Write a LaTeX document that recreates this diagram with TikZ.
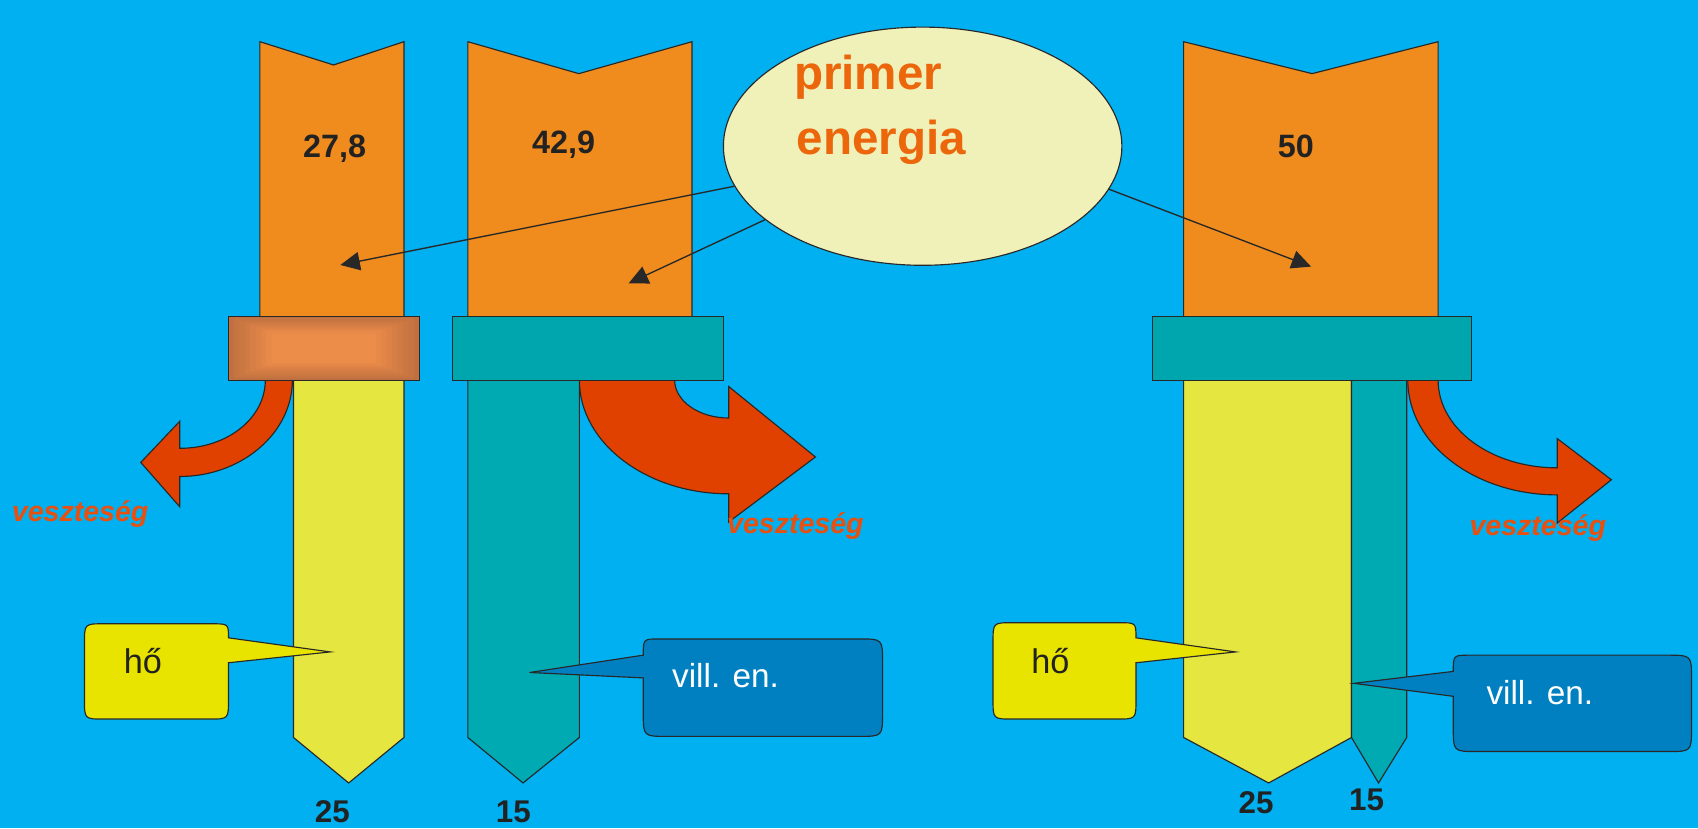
\documentclass[tikz,border=0pt]{standalone}
\usepackage{fontspec}
\setmainfont{Liberation Sans}
\usetikzlibrary{arrows.meta,shapes.geometric}
\definecolor{bg}{RGB}{0,176,240}
\definecolor{colc}{RGB}{240,140,30}
\definecolor{ellc}{RGB}{240,240,185}
\definecolor{primc}{RGB}{236,102,12}
\definecolor{lossc}{RGB}{224,64,0}
\definecolor{losst}{RGB}{232,80,16}
\definecolor{tealbox}{RGB}{0,166,174}
\definecolor{tealbar}{RGB}{0,170,178}
\definecolor{yel}{RGB}{230,230,64}
\definecolor{hoc}{RGB}{232,228,0}
\definecolor{villc}{RGB}{0,128,192}
\definecolor{bout}{RGB}{192,112,64}
\definecolor{bin}{RGB}{238,142,74}
\definecolor{txt}{RGB}{34,34,34}
\definecolor{outl}{RGB}{40,40,40}
\begin{document}
\begin{tikzpicture}[x=0.02cm,y=-0.02cm,line join=miter,
  shp/.style={draw=outl,line width=0.6pt},
  loss/.style={shp,fill=lossc},
  colshape/.style={shp,fill=colc},
  num/.style={font=\bfseries\fontsize{17}{17}\selectfont,text=txt,inner sep=0,anchor=base},
  botnum/.style={font=\bfseries\fontsize{16.5}{16.5}\selectfont,text=txt,inner sep=0,anchor=base},
  prim/.style={font=\bfseries\fontsize{25}{25}\selectfont,text=primc,inner sep=0,anchor=base west},
  losstxt/.style={font=\bfseries\itshape\fontsize{15}{15}\selectfont,text=losst,inner sep=0,anchor=base},
  hotxt/.style={font=\fontsize{18}{18}\selectfont,text=txt,inner sep=0,anchor=base},
  villtxt/.style={font=\fontsize{17.5}{17.5}\selectfont,text=white,inner sep=0,anchor=base},
  conn/.style={draw=outl,line width=0.7pt,-{Triangle[length=0.36cm,width=0.34cm]}}]
\fill[bg] (0,0) rectangle (1568,765);
\useasboundingbox (0,0) rectangle (1568,765);

% loss arrows
\path[loss] (245,351) .. controls (245,386) and (210,414) .. (166,414) -- (166,389) -- (130,427) -- (166,468) -- (166,440) .. controls (223,440) and (270,400) .. (270,351) -- cycle;
\path[loss] (535,351) .. controls (535,409) and (597,456) .. (673,456) -- (673,482) -- (753,422) -- (673,357) -- (673,386) .. controls (645,386) and (623,370) .. (623,351) -- cycle;
\path[loss] (1300,351) .. controls (1300,410) and (1362,457) .. (1438,457) -- (1438,483) -- (1488,443) -- (1438,405) -- (1438,432) .. controls (1377,432) and (1328,396) .. (1328,351) -- cycle;

% primary energy columns
\path[colshape] (240,300) -- (240,38.5) -- (308,60) -- (373,38.5) -- (373,300) -- cycle;
\path[colshape] (432,300) -- (432,38.5) -- (534.5,68) -- (639,38.5) -- (639,300) -- cycle;
\path[colshape] (1093,300) -- (1093,38.5) -- (1211.6,68) -- (1328,38.5) -- (1328,300) -- cycle;

% output bars
\path[shp,fill=yel] (271,345) -- (271,681) -- (322,723) -- (373,681) -- (373,345) -- cycle;
\path[shp,fill=tealbar] (432,345) -- (432,681) -- (483,723) -- (535,681) -- (535,345) -- cycle;
\path[shp,fill=yel] (1093,345) -- (1093,681) -- (1171.5,723) -- (1248,681) -- (1248,345) -- cycle;
\path[shp,fill=tealbar] (1248,345) -- (1248,681) -- (1273,723) -- (1299,681) -- (1299,345) -- cycle;

% converter boxes
\fill[bout] (211,292) rectangle (387,351);
\foreach \i in {1,...,8}{
  \pgfmathtruncatemacro\p{\i*12}
  \fill[color=bin!\p!bout] (211+\i*5,292+\i*2) rectangle (387-\i*5,351-\i*2);
}
\draw[shp] (211,292) rectangle (387,351);
\path[shp,fill=tealbox] (418,292) rectangle (668,351);
\path[shp,fill=tealbox] (1064,292) rectangle (1359,351);

% column values
\node[num] (v1) at (309,145) {27,8};
\node[num] (v2) at (520.5,142) {42,9};
\node[num] (v3) at (1196.6,145) {50};

% primary energy ellipse
\node[ellipse,fill=ellc,draw=outl,line width=0.6pt,minimum width=7.36cm,minimum height=4.4cm,inner sep=0] (pe) at (852,135) {};
\node[prim] (pt1) at (733,83) {primer};
\node[prim] (pt2) at (735.5,143) {energia};
\coordinate (a1) at (314.3,244.7);
\coordinate (a2) at (580.5,261.6);
\coordinate (a3) at (1210.7,246.2);
\draw[conn] (pe.192.5) -- (a1);
\draw[conn] (pe.205.9) -- (a2);
\draw[conn] (pe.-13.5) -- (a3);

% loss labels
\node[losstxt] (l1) at (74,482) {veszteség};
\node[losstxt] (l2) at (734.5,493) {veszteség};
\node[losstxt] (l3) at (1420,494.6) {veszteség};

% callouts
\path[shp,fill=hoc] (96,576) -- (195,576) .. controls (211,576) .. (211,589) -- (305,602) -- (211,612) -- (211,646) .. controls (211,664) .. (193,664) -- (96,664) .. controls (78,664) .. (78,646) -- (78,594) .. controls (78,576) .. (96,576) -- cycle;
\path[shp,fill=villc] (609,590) -- (793,590) .. controls (815,590) .. (815,612) -- (815,658) .. controls (815,680) .. (793,680) -- (616,680) .. controls (594,680) .. (594,658) -- (594,626) -- (489,621) -- (594,605) .. controls (594,590) .. (609,590) -- cycle;
\path[shp,fill=hoc] (935,575) -- (1033,575) .. controls (1049,575) .. (1049,589) -- (1141,602) -- (1049,612) -- (1049,646) .. controls (1049,664) .. (1031,664) -- (935,664) .. controls (917,664) .. (917,646) -- (917,593) .. controls (917,575) .. (935,575) -- cycle;
\path[shp,fill=villc] (1357,605) -- (1540,605) .. controls (1562,605) .. (1562,627) -- (1562,672) .. controls (1562,694) .. (1540,694) -- (1364,694) .. controls (1342,694) .. (1342,672) -- (1342,643) -- (1250,631) -- (1342,620) .. controls (1342,605) .. (1357,605) -- cycle;
\node[hotxt] (h1) at (132,621.7) {hő};
\node[villtxt] (e1) at (670,635) {vill. en.};
\node[hotxt] (h2) at (970,621.7) {hő};
\node[villtxt] (e2) at (1422,651) {vill. en.};

% output values
\node[botnum] (o1) at (307,759.5) {25};
\node[botnum] (o2) at (474,759.5) {15};
\node[botnum] (o3) at (1160,751) {25};
\node[botnum] (o4) at (1262,748.5) {15};
\end{tikzpicture}
\end{document}
